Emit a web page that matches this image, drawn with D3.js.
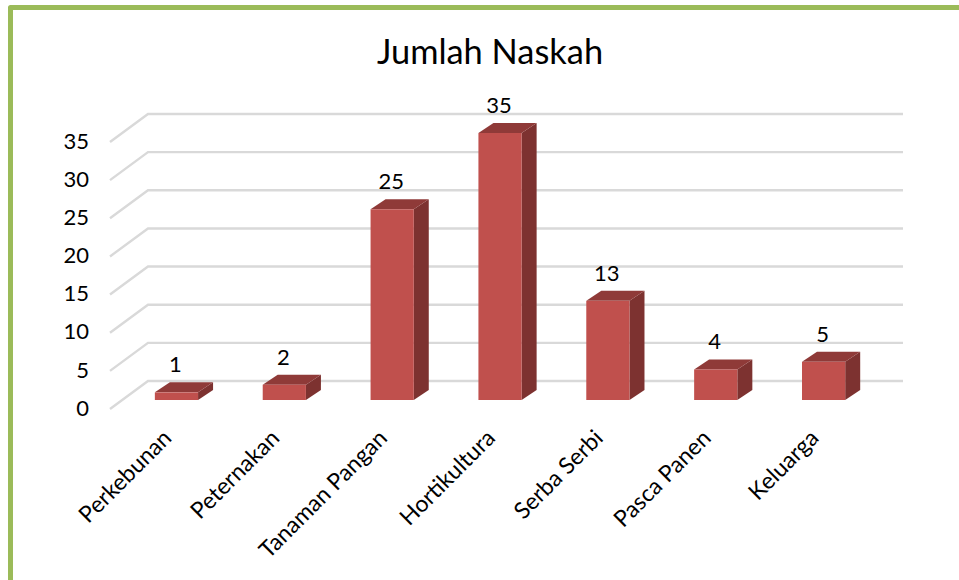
<!DOCTYPE html>
<html><head><meta charset="utf-8">
<script src="https://cdn.jsdelivr.net/npm/d3@7"></script>
<style>html,body{margin:0;padding:0;background:#fff}svg{display:block}text{font-family:Lato,"Open Sans",sans-serif;fill:#000}</style>
</head><body><svg id="c" width="959" height="580"></svg>
<script>
const categories=["Perkebunan","Peternakan","Tanaman Pangan","Hortikultura","Serba Serbi","Pasca Panen","Keluarga"];
const values=[1,2,25,35,13,4,5];
const yTicks=[0,5,10,15,20,25,30,35];
const titleText="Jumlah Naskah";

const svg=d3.select("#c");
const W=959,H=580;
svg.append("rect").attr("width",W).attr("height",H).attr("fill","#fff");
// frame
svg.append("path").attr("d","M10.5,580V7.5H959").attr("fill","none").attr("stroke","#9BBB59").attr("stroke-width",5).attr("stroke-linejoin","round");

const y=d3.scaleLinear().domain([0,35]).range([381,114]);
const x=d3.scaleBand().domain(categories).range([110,865]).paddingInner(0.6).paddingOuter(0.3);
const wallDx=38,wallDy=-28, barDx=15,barDy=-10, barFrontDx=wallDx-26, barFrontDy=19;

// gridlines
const grid=svg.append("g").attr("fill","none").attr("stroke","#D9D9D9").attr("stroke-width",2.4);
yTicks.forEach(t=>{
  const yb=y(t);
  grid.append("path").attr("d",`M110,${yb-wallDy}L148,${yb}H903`);
});

// axis labels
svg.append("g").selectAll("text").data(yTicks).join("text")
  .attr("x",89).attr("y",d=>y(d)-wallDy-1).attr("text-anchor","end").attr("dy","0.35em")
  .attr("font-size",22).text(d=>d);

// bars
const bars=svg.append("g").selectAll("g").data(categories).join("g");
bars.each(function(c,i){
  const g=d3.select(this);
  const x0=x(c)+barFrontDx+0.5, w=43.2, v=values[i];
  const y0=y(0)+barFrontDy, y1=y(v)+barFrontDy;
  g.append("path").attr("d",`M${x0+w},${y1}L${x0+w+barDx},${y1+barDy}V${y0+barDy}L${x0+w},${y0}Z`).attr("fill","#7D3230");
  g.append("path").attr("d",`M${x0},${y1}L${x0+barDx},${y1+barDy}H${x0+w+barDx}L${x0+w},${y1}Z`).attr("fill","#8F3A38");
  g.append("rect").attr("x",x0).attr("y",y1).attr("width",w).attr("height",y0-y1).attr("fill","#C0504D");
  g.append("text").attr("x",x0+w/2-1).attr("y",y1+barDy-10).attr("text-anchor","middle")
    .attr("font-size",22).text(v);
  g.append("text").attr("text-anchor","end").attr("font-size",23)
    .attr("transform",`translate(${x0+w/2-3.5},${439.5}) rotate(-45)`).text(c);
});

svg.append("text").attr("x",490).attr("y",64).attr("text-anchor","middle").attr("font-size",34.4).text(titleText);
</script></body></html>
